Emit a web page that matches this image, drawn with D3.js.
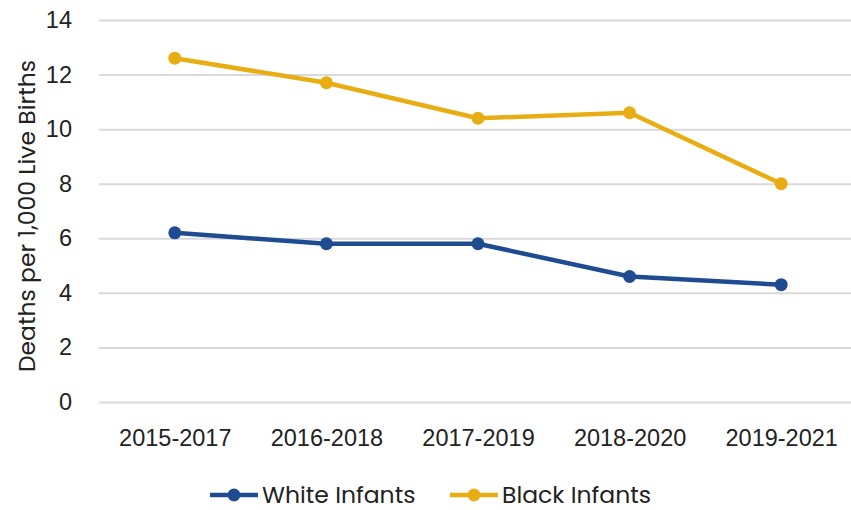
<!DOCTYPE html>
<html>
<head>
<meta charset="utf-8">
<script src="https://cdn.jsdelivr.net/npm/d3@7"></script>
<style>
  body { margin: 0; background: #fff; }
  svg { display: block; font-family: "Poppins", "Noto Sans", sans-serif; }
</style>
</head>
<body>
<svg id="chart" width="851" height="510"></svg>
<script>
// periods on the x axis
const periods = ["2015-2017", "2016-2018", "2017-2019", "2018-2020", "2019-2021"];
// infant deaths per 1,000 live births
const whiteInfants = [6.2, 5.8, 5.8, 4.6, 4.3];
const blackInfants = [12.6, 11.7, 10.4, 10.6, 8.0];
const yTicks = [0, 2, 4, 6, 8, 10, 12, 14];

const series = [
    {name: "White Infants", values: whiteInfants, color: "#1f4b91"},
    {name: "Black Infants", values: blackInfants, color: "#e9ad14"}
];

const fontSize = 23.5;

const svg = d3.select("#chart"),
    width = +svg.attr("width"),
    height = +svg.attr("height");

const margin = {top: 20, right: -6, bottom: 108, left: 99};

const x = d3.scalePoint()
    .domain(periods)
    .range([margin.left, width - margin.right])
    .padding(0.5);

const y = d3.scaleLinear()
    .domain([0, 14])
    .range([height - margin.bottom, margin.top]);

// gridlines + y labels
const yAxis = svg.append("g")
    .attr("transform", `translate(${margin.left},0)`)
    .call(d3.axisLeft(y).tickValues(yTicks).tickSize(-(width - margin.left)).tickPadding(27));
yAxis.select(".domain").remove();
yAxis.selectAll(".tick line").attr("stroke", "#d9d9d9").attr("stroke-width", 2);
yAxis.selectAll(".tick text").attr("fill", "#222").attr("font-size", fontSize);

// x labels
const xAxis = svg.append("g")
    .attr("transform", `translate(0,${height - margin.bottom})`)
    .call(d3.axisBottom(x).tickSize(0).tickPadding(27));
xAxis.select(".domain").remove();
xAxis.selectAll(".tick text").attr("fill", "#222").attr("font-size", fontSize);

// y title
svg.append("text")
    .attr("transform", `translate(35,${(margin.top + height - margin.bottom) / 2 + 5}) rotate(-90)`)
    .attr("text-anchor", "middle")
    .attr("fill", "#222")
    .attr("font-size", fontSize)
    .text("Deaths per 1,000 Live Births");

const line = d3.line()
    .x((d, i) => x(periods[i]))
    .y(d => y(d));

series.forEach(s => {
    svg.append("path")
        .datum(s.values)
        .attr("fill", "none")
        .attr("stroke", s.color)
        .attr("stroke-width", 4.5)
        .attr("stroke-linejoin", "round")
        .attr("d", line);

    svg.append("g")
        .selectAll("circle")
        .data(s.values)
        .join("circle")
        .attr("cx", (d, i) => x(periods[i]))
        .attr("cy", d => y(d))
        .attr("r", 6.5)
        .attr("fill", s.color);
});

// legend
const legendX = [210, 450];
const legend = svg.append("g");
series.forEach((s, i) => {
    const g = legend.append("g").attr("transform", `translate(${legendX[i]},495)`);
    g.append("line")
        .attr("x1", 0).attr("x2", 48)
        .attr("stroke", s.color).attr("stroke-width", 4.5);
    g.append("circle").attr("cx", 24).attr("r", 6.5).attr("fill", s.color);
    g.append("text")
        .attr("x", 52).attr("dy", "0.35em")
        .attr("fill", "#222")
        .attr("font-size", fontSize)
        .text(s.name);
});
</script>
</body>
</html>
